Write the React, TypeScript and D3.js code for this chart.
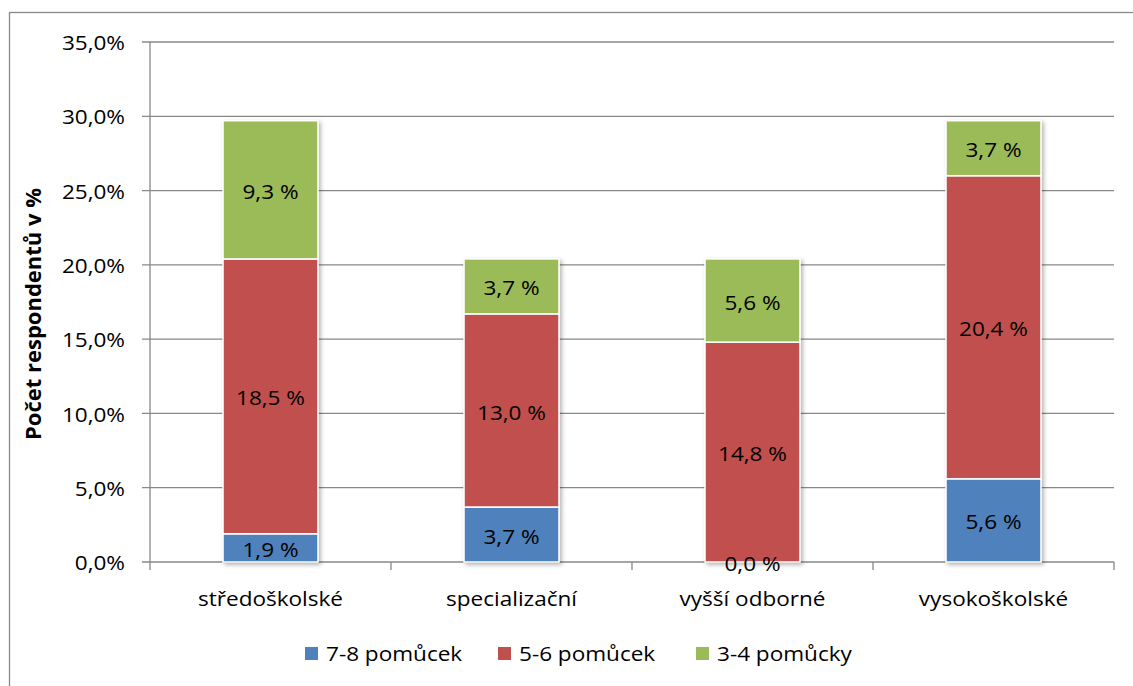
import React from "react";
import * as d3 from "d3";

const categories = ["středoškolské", "specializační", "vyšší odborné", "vysokoškolské"];
const seriesNames = ["7-8 pomůcek", "5-6 pomůcek", "3-4 pomůcky"];
const s78 = [1.9, 3.7, 0.0, 5.6];
const s56 = [18.5, 13.0, 14.8, 20.4];
const s34 = [9.3, 3.7, 5.6, 3.7];
const yTicks = [0, 5, 10, 15, 20, 25, 30, 35];
const colors = ["#4F81BD", "#C0504D", "#9BBB59"];

const W = 1133;
const H = 686;
const FONT = "'Open Sans', sans-serif";
const SX = 1.1;

const fmt = (v: number) => v.toFixed(1).replace(".", ",");

function T({ x, y, children, anchor = "middle", size = 20.5, weight = 400 }: any) {
  return (
    <g transform={`translate(${x},${y}) scale(${SX},1)`}>
      <text textAnchor={anchor} fontSize={size} fontWeight={weight} fontFamily={FONT} fill="#000" dominantBaseline="central">
        {children}
      </text>
    </g>
  );
}

export default function App() {
  const x = d3.scaleBand().domain(categories).range([150, 1114]).paddingInner(0.606).paddingOuter(0.303);
  const y = d3.scaleLinear().domain([0, 35]).range([562, 42]);
  const rows = categories.map((c, i) => ({ cat: c, a: s78[i], b: s56[i], c: s34[i] }));
  const stack = d3.stack<any>().keys(["a", "b", "c"])(rows);
  const band = 964 / 4;

  return (
    <svg width={W} height={H} style={{ position: "absolute", left: 0, top: 0 }}>
      <defs>
        <filter id="sh" x="-20%" y="-20%" width="140%" height="140%">
          <feDropShadow dx="2" dy="2" stdDeviation="2" floodColor="#000" floodOpacity="0.3" />
        </filter>
      </defs>
      <rect x={0} y={0} width={W} height={H} fill="#fff" />
      <rect x={9.5} y={12.5} width={W} height={H} fill="none" stroke="#888" strokeWidth={1.3} />
      {yTicks.map((t) => (
        <line key={t} x1={142} x2={1114} y1={y(t)} y2={y(t)} stroke="#888" strokeWidth={1.3} />
      ))}
      <line x1={150} x2={150} y1={y(35)} y2={y(0)} stroke="#888" strokeWidth={1.3} />
      {d3.range(5).map((i) => (
        <line key={i} x1={150 + i * band} x2={150 + i * band} y1={y(0)} y2={y(0) + 8} stroke="#888" strokeWidth={1.3} />
      ))}
      {yTicks.map((t) => (
        <T key={t} x={125} y={y(t)} anchor="end">{fmt(t) + "%"}</T>
      ))}
      <g filter="url(#sh)">
        {stack.map((layer, li) =>
          layer.map((d: any, i: number) => {
            const h = y(d[0]) - y(d[1]);
            if (h <= 0) return null;
            return (
              <rect key={`${li}-${i}`} x={x(categories[i])!} y={y(d[1])} width={x.bandwidth()} height={h}
                fill={colors[li]} stroke="#fff" strokeWidth={1.5} />
            );
          })
        )}
      </g>
      {stack.map((layer, li) =>
        layer.map((d: any, i: number) => {
          const v = [s78, s56, s34][li][i];
          return (
            <T key={`l${li}-${i}`} x={x(categories[i])! + x.bandwidth() / 2} y={(y(d[0]) + y(d[1])) / 2 + 1}>
              {fmt(v) + " %"}
            </T>
          );
        })
      )}
      {categories.map((c) => (
        <T key={c} x={x(c)! + x.bandwidth() / 2} y={598}>{c}</T>
      ))}
      <g transform="translate(33,314) rotate(-90)">
        <text textAnchor="middle" dominantBaseline="central" fontSize={21} fontWeight={700} fontFamily={FONT}
          textLength={252} lengthAdjust="spacingAndGlyphs">Počet respondentů v %</text>
      </g>
      {seriesNames.map((s, i) => {
        const lx = [305, 498, 696][i];
        return (
          <g key={s}>
            <rect x={lx} y={647} width={13} height={13} fill={colors[i]} />
            <T x={lx + 21} y={653} anchor="start">{s}</T>
          </g>
        );
      })}
    </svg>
  );
}
